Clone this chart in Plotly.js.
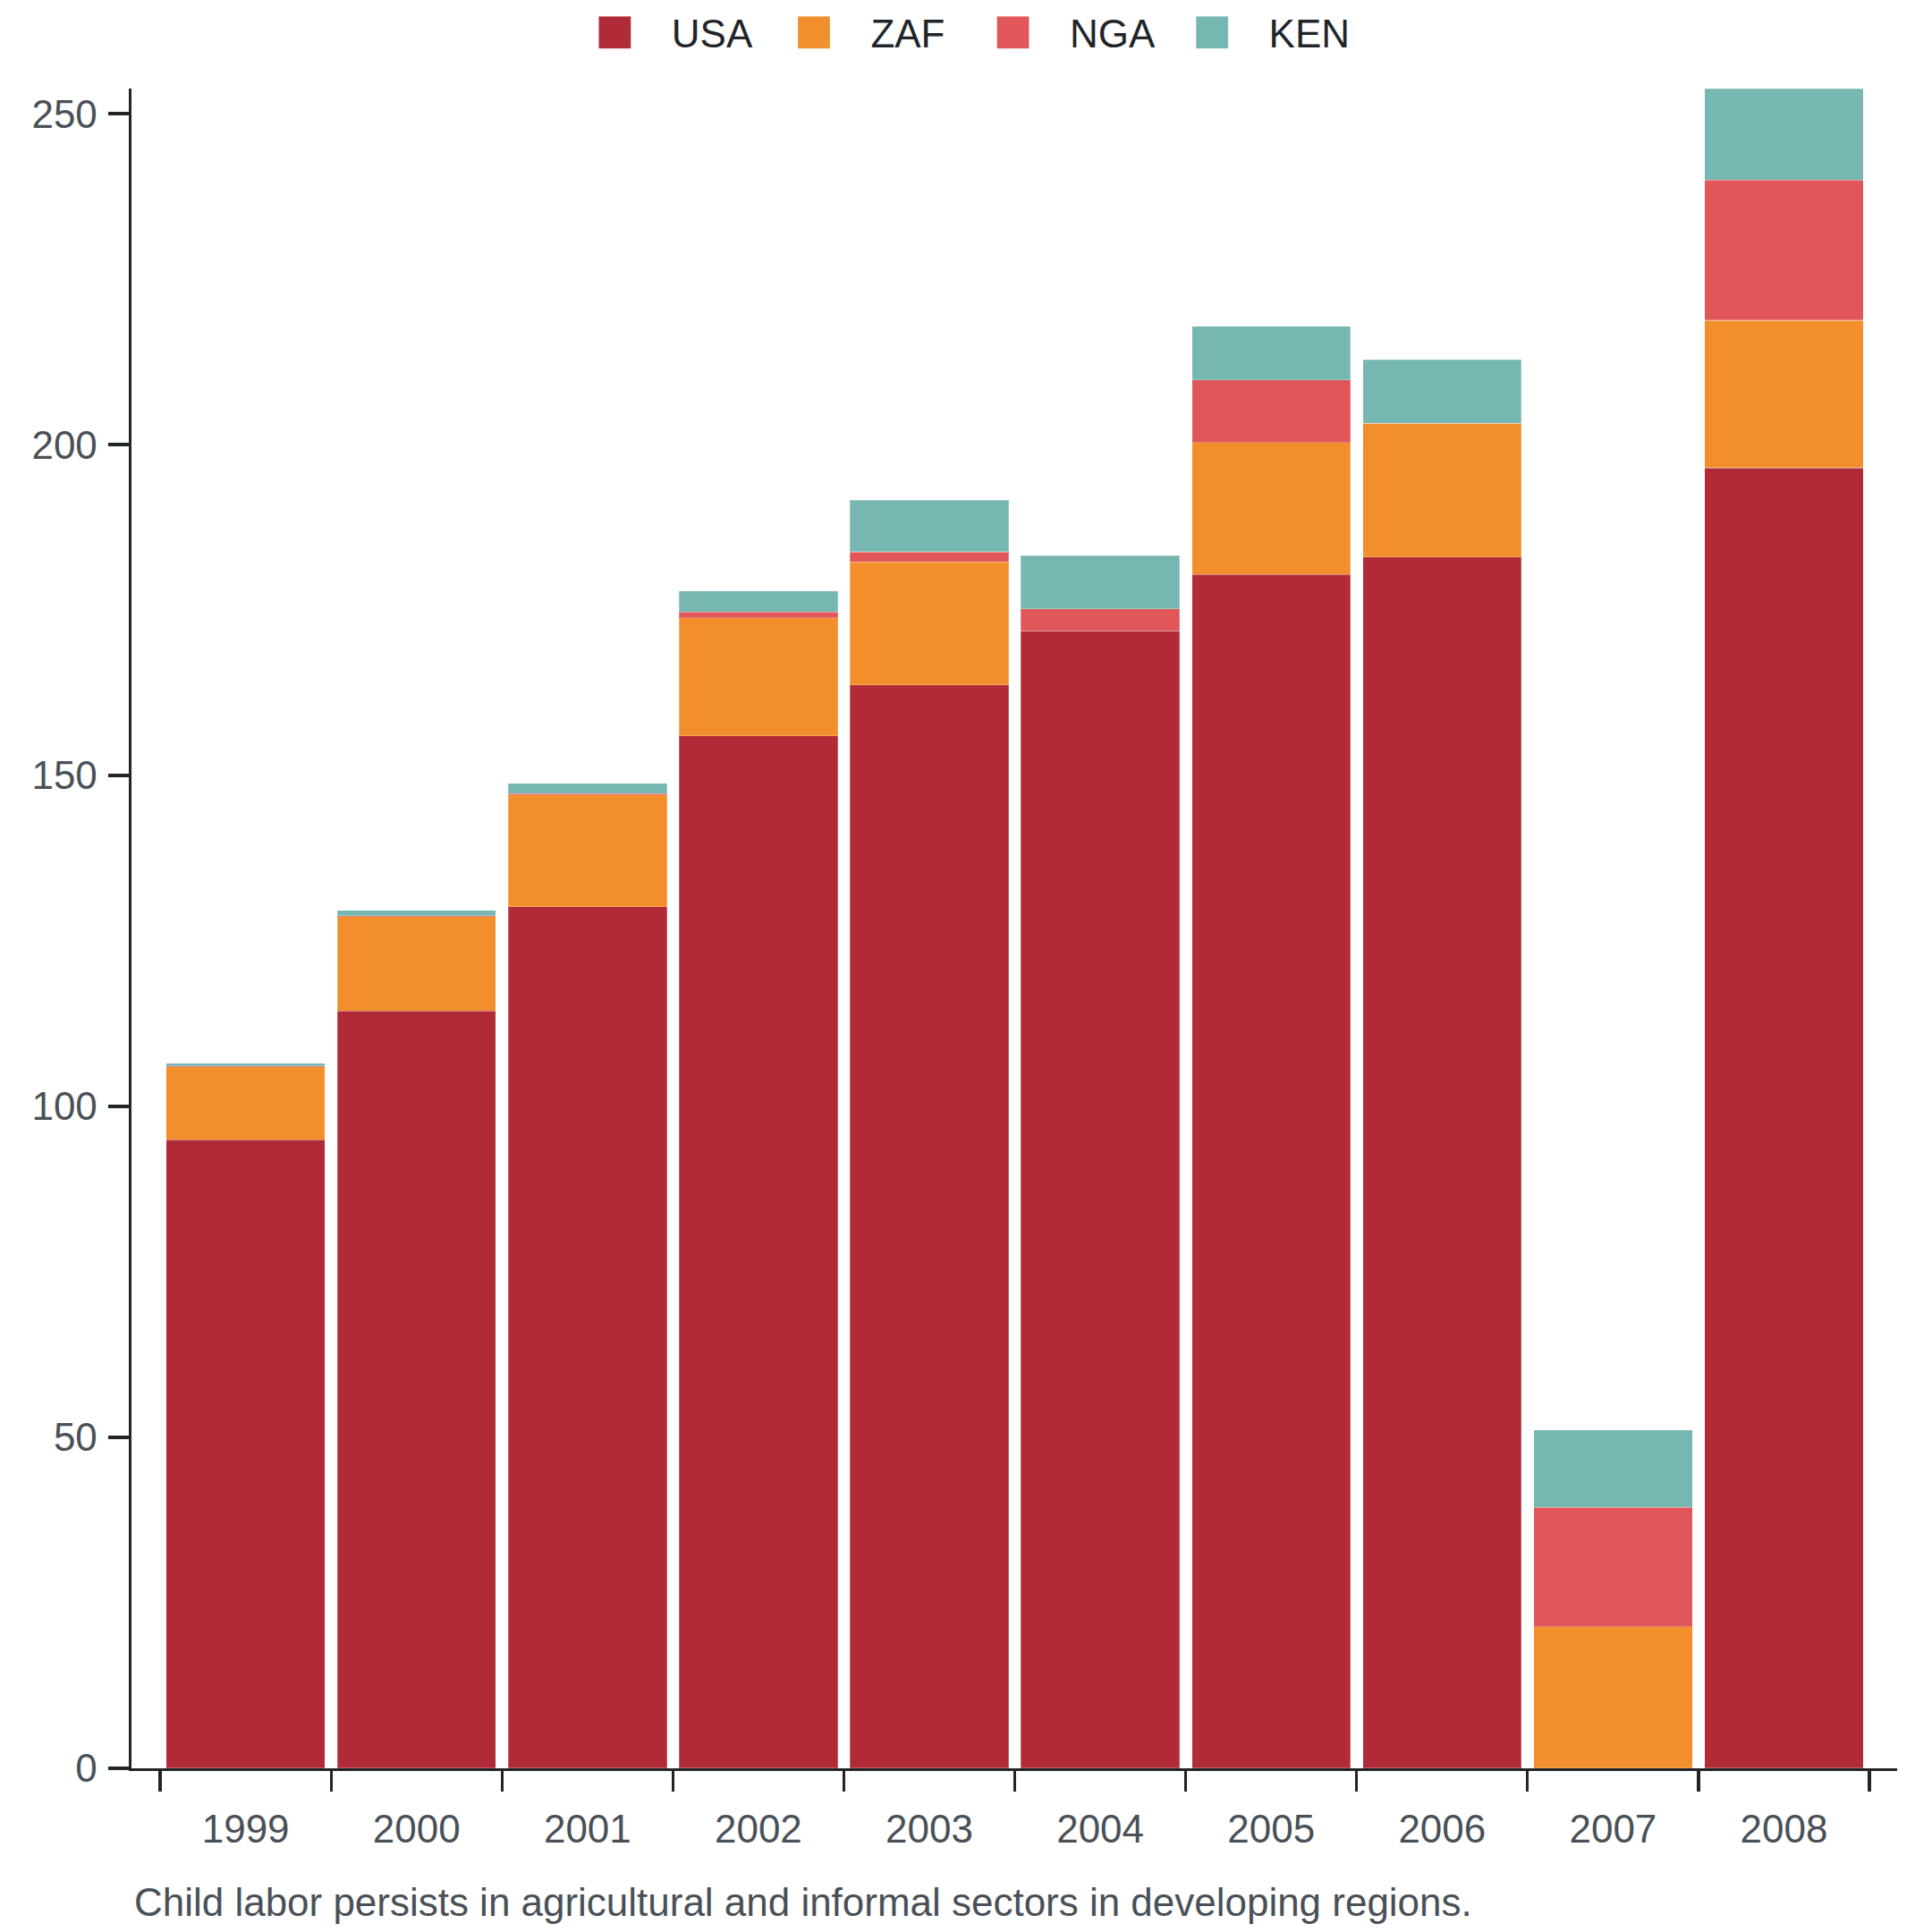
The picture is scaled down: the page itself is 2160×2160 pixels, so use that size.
<!DOCTYPE html>
<html>
<head>
<meta charset="utf-8">
<script src="https://cdn.plot.ly/plotly-3.0.1.min.js"></script>
<style>
html,body{margin:0;padding:0;background:#fff;overflow:hidden}
#wrap{width:2160px;height:2160px;overflow:hidden;position:relative}
#chart{width:720px;height:720px;transform:scale(3);transform-origin:0 0;position:absolute;left:0;top:0}
</style>
</head>
<body>
<div id="wrap"><div id="chart"></div></div>
<script>
const years = ['1999','2000','2001','2002','2003','2004','2005','2006','2007','2008'];
const usa = [95.0, 114.4, 130.2, 156.0, 163.7, 171.9, 180.4, 183.0, 0, 196.5];
const zaf = [11.0, 14.3, 16.85, 17.8, 18.6, 0, 19.9, 20.2, 21.4, 22.3];
const nga = [0.1, 0.15, 0.25, 0.9, 1.5, 3.3, 9.5, 0, 18.0, 21.2];
const ken = [0.4, 0.8, 1.55, 3.2, 7.8, 8.0, 8.1, 9.6, 11.7, 13.8];
const seriesNames = ['USA','ZAF','NGA','KEN'];
const seriesColors = ['#b02a38','#f28e2b','#e15759','#76b7b2'];
const caption = 'Child labor persists in agricultural and informal sectors in developing regions.';

const FONT = 'Arial, "Liberation Sans", Helvetica, sans-serif';
const FS = 14.66;
const allSeries = [usa, zaf, nga, ken];
const traces = allSeries.map((vals, i) => ({
  type: 'bar',
  name: seriesNames[i],
  x: years,
  y: vals,
  marker: {color: seriesColors[i], line: {color: 'rgba(255,255,255,0.25)', width: 0.35}},
  hoverinfo: 'x+y+name'
}));

const layout = {
  width: 720,
  height: 720,
  barmode: 'stack',
  bargap: 0.072,
  paper_bgcolor: '#ffffff',
  plot_bgcolor: '#ffffff',
  font: {family: FONT, size: FS, color: '#495057'},
  margin: {l: 49.33, r: 13.33, t: 33.33, b: 61.33, pad: 0, autoexpand: false},
  showlegend: true,
  legend: {
    orientation: 'h',
    traceorder: 'normal',
    xref: 'container', yref: 'paper',
    x: 0.4951, xanchor: 'center',
    y: 1.059, yanchor: 'top',
    itemwidth: 32.3,
    entrywidth: 26.9,
    font: {family: FONT, size: FS, color: '#212529'},
    bgcolor: 'rgba(0,0,0,0)'
  },
  xaxis: {
    type: 'category',
    range: [-0.668, 9.662],
    tickson: 'boundaries',
    ticks: 'outside', ticklen: 7.7, tickwidth: 1.1, tickcolor: '#212529',
    ticklabelstandoff: 9,
    showline: true, linecolor: '#212529', linewidth: 1.1,
    showgrid: false, zeroline: false,
    tickfont: {family: FONT, size: FS, color: '#495057'},
    fixedrange: true
  },
  yaxis: {
    range: [0, 253.8],
    tickmode: 'linear', tick0: 0, dtick: 50,
    ticks: 'outside', ticklen: 7.7, tickwidth: 1.1, tickcolor: '#212529',
    ticklabelstandoff: 1,
    showline: true, linecolor: '#212529', linewidth: 1.1,
    showgrid: false, zeroline: false,
    tickfont: {family: FONT, size: FS, color: '#495057'},
    fixedrange: true
  },
  annotations: [{
    text: caption,
    xref: 'paper', yref: 'paper',
    x: -0.002, xanchor: 'left',
    y: -0.0804, yanchor: 'middle',
    showarrow: false,
    font: {family: FONT, size: FS, color: '#495057'}
  }]
};

Plotly.newPlot('chart', traces, layout, {staticPlot: true, displayModeBar: false});
</script>
</body>
</html>
